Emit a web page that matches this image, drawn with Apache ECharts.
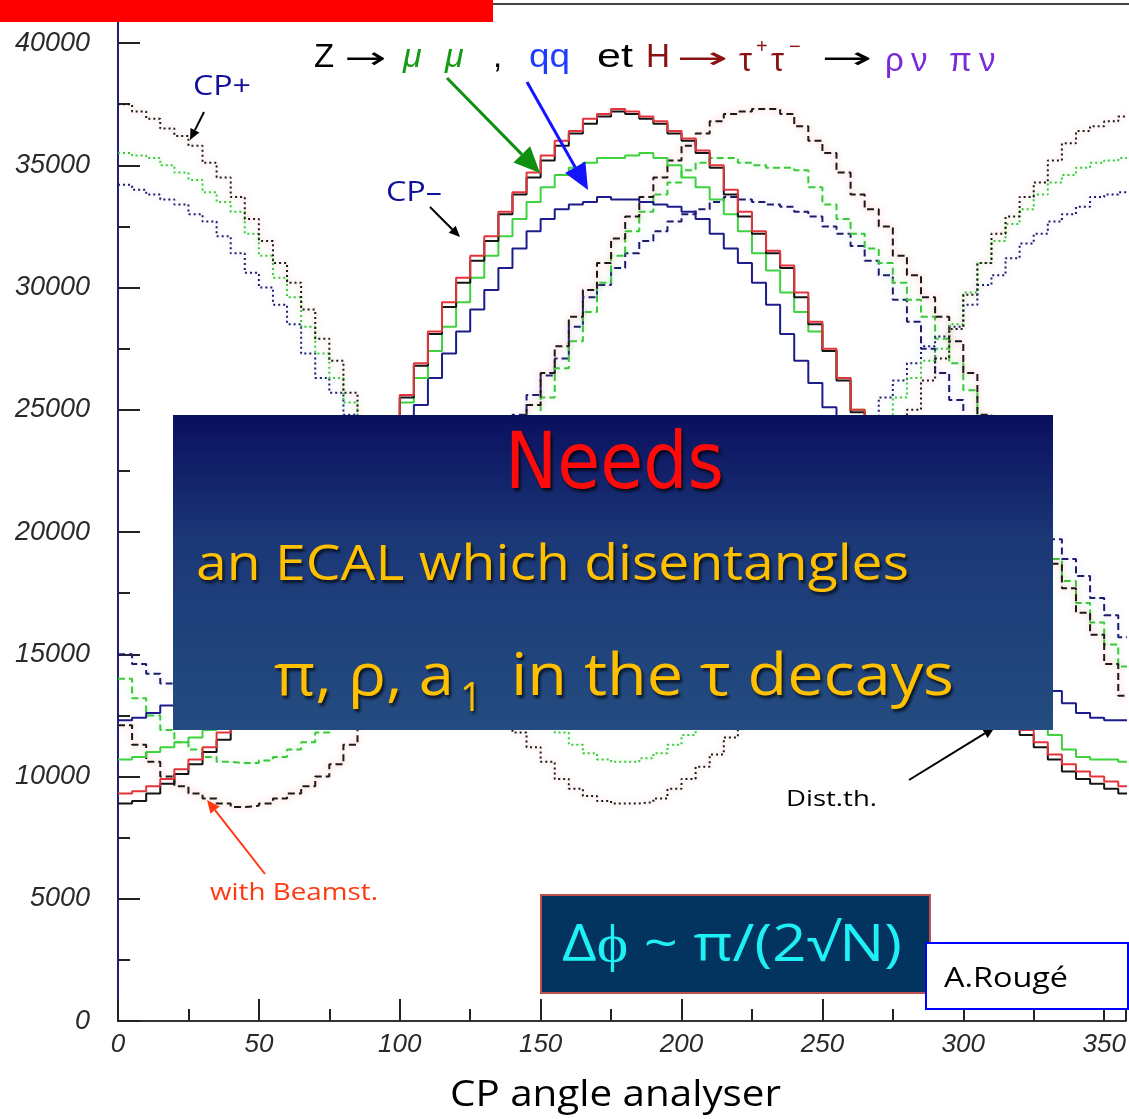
<!DOCTYPE html>
<html>
<head>
<meta charset="utf-8">
<script src="https://cdn.jsdelivr.net/npm/echarts@6/dist/echarts.min.js"></script>
<style>
  body { margin: 0; background: #fff; }
  #main { width: 1129px; height: 1119px; }
</style>
</head>
<body>
<div id="main"></div>
<script>
// bins of the CP angle (degrees), 5 deg wide
const angles = [
  0, 5, 10, 15, 20, 25, 30, 35, 40, 45,
  50, 55, 60, 65, 70, 75, 80, 85, 90, 95,
  100, 105, 110, 115, 120, 125, 130, 135, 140, 145,
  150, 155, 160, 165, 170, 175, 180, 185, 190, 195,
  200, 205, 210, 215, 220, 225, 230, 235, 240, 245,
  250, 255, 260, 265, 270, 275, 280, 285, 290, 295,
  300, 305, 310, 315, 320, 325, 330, 335, 340, 345,
  350, 355, 360
];

// solid histograms (peak at 180)
const blackSolid = [
  8900, 9000, 9300, 9700, 10100, 10500, 11000, 11500, 12100, 12800,
  13600, 14500, 15500, 16600, 17800, 19000, 20300, 21600, 22900, 24200,
  25500, 26800, 28100, 29200, 30200, 31100, 31900, 33000, 33800, 34500,
  35200, 35800, 36300, 36700, 37000, 37200, 37100, 36900, 36700, 36300,
  36000, 35500, 34900, 33800, 32900, 32200, 31400, 30800, 29600, 28500,
  27400, 26200, 24900, 23500, 22100, 20800, 19400, 18000, 16800, 15600,
  14600, 13700, 12900, 12200, 11700, 11200, 10700, 10200, 9900, 9700,
  9500, 9300, 9100
];
const redSolid = [
  9300, 9400, 9600, 9900, 10300, 10700, 11200, 11800, 12400, 13000,
  13800, 14700, 15700, 16800, 17900, 19100, 20400, 21700, 23000, 24300,
  25600, 26900, 28200, 29400, 30400, 31300, 32100, 33100, 33900, 34700,
  35400, 36000, 36400, 36900, 37100, 37300, 37200, 37000, 36800, 36400,
  36100, 35600, 35000, 34000, 33100, 32300, 31500, 30900, 29800, 28600,
  27500, 26300, 25000, 23600, 22300, 20900, 19600, 18200, 17000, 15800,
  14800, 13900, 13100, 12400, 11900, 11400, 10900, 10500, 10200, 10000,
  9800, 9600, 9400
];
const greenSolid = [
  10700, 10800, 11000, 11200, 11400, 11600, 11900, 12400, 13000, 13700,
  14500, 15400, 16400, 17400, 18500, 19600, 20800, 22000, 23200, 24300,
  25300, 26300, 27400, 28400, 29400, 30400, 31300, 32100, 32800, 33500,
  34100, 34600, 34900, 35100, 35300, 35300, 35400, 35500, 35300, 35000,
  34500, 34100, 33600, 33000, 32300, 31400, 30700, 29800, 29000, 28200,
  27400, 26300, 25000, 23800, 22600, 21300, 20100, 18900, 17700, 16600,
  15500, 14600, 13800, 13100, 12500, 12000, 11700, 11100, 10800, 10700,
  10700, 10600, 10700
];
const navySolid = [
  12300, 12400, 12600, 12900, 13100, 13400, 13800, 14300, 14800, 15400,
  16100, 16900, 17700, 18600, 19500, 20500, 21500, 22500, 23400, 24000,
  24600, 25200, 26300, 27300, 28200, 29100, 29900, 30800, 31600, 32300,
  32800, 33200, 33400, 33500, 33700, 33600, 33600, 33500, 33400, 33300,
  33100, 32800, 32200, 31600, 31000, 30200, 29300, 28100, 27000, 26100,
  25100, 24100, 23100, 22000, 20900, 19800, 18800, 17800, 16900, 16100,
  15400, 14800, 14300, 13900, 13600, 13500, 13500, 13000, 12600, 12400,
  12300, 12300, 12300
];

// CP+ (dotted, peak at 0 / 360)
const cpPlusBlack = [
  37500, 37200, 36900, 36500, 36200, 35800, 35100, 34500, 33700, 32800,
  31900, 31000, 30200, 29100, 27900, 27000, 25700, 24100, 22600, 21100,
  19700, 18300, 16900, 15700, 14600, 13700, 12900, 12300, 11800, 11200,
  10600, 9900, 9500, 9200, 9000, 8900, 8900, 8950, 9100, 9500,
  9900, 10400, 10900, 11600, 12500, 13400, 14400, 15600, 16800, 18000,
  19200, 20400, 21500, 22500, 23300, 24000, 25000, 26200, 27100, 28300,
  29700, 31000, 32200, 32900, 33700, 34300, 35200, 35900, 36400, 36600,
  36800, 37000, 37300
];
const cpPlusGreen = [
  35500, 35400, 35300, 35000, 34700, 34400, 33900, 33500, 33100, 32200,
  31300, 30400, 29600, 28400, 27300, 26300, 25300, 24200, 23100, 21900,
  20700, 19500, 18300, 17200, 16200, 15300, 14500, 13800, 13300, 12800,
  12300, 11800, 11300, 10950, 10700, 10600, 10600, 10750, 10950, 11300,
  11700, 12200, 12900, 13600, 14400, 15300, 16300, 17400, 18500, 19600,
  20700, 21800, 22800, 23800, 24700, 25500, 26300, 27000, 27500, 28500,
  29800, 31000, 31900, 32600, 33200, 33800, 34300, 34600, 34900, 35100,
  35200, 35300, 35500
];
const cpPlusNavy = [
  34200, 34000, 33800, 33600, 33400, 33000, 32700, 32100, 31400, 30600,
  30000, 29300, 28500, 27300, 26300, 25700, 24800, 24000, 23100, 22200,
  21200, 20200, 19200, 18200, 17200, 16300, 15500, 14800, 14200, 13700,
  13300, 13000, 12800, 12700, 12600, 12600, 12600, 12700, 12900, 13200,
  13600, 14100, 14700, 15400, 16200, 17100, 18000, 19000, 20000, 21000,
  22000, 23000, 23900, 24700, 25500, 26200, 26900, 27600, 28000, 28400,
  29300, 30100, 30500, 31200, 31800, 32200, 32700, 33000, 33300, 33700,
  33800, 33900, 34100
];

// CP- (dashed, peak near 225)
const cpMinusBlack = [
  12100, 11300, 10600, 10000, 9600, 9300, 9100, 8900, 8750, 8800,
  8900, 9100, 9300, 9600, 10000, 10500, 11300, 12200, 13200, 14200,
  15200, 16300, 17400, 18500, 19600, 20700, 21900, 23100, 24200, 25200,
  26500, 27600, 28800, 29900, 31000, 32000, 32900, 33700, 34500, 35200,
  35800, 36300, 36800, 37100, 37200, 37300, 37300, 37100, 36600, 36000,
  35500, 34700, 33800, 33200, 32500, 31300, 30500, 29600, 28800, 27800,
  26500, 24800, 23300, 21900, 20700, 19600, 18700, 17700, 16700, 15800,
  14600, 13300, 12200
];
const cpMinusGreen = [
  14000, 13200, 12500, 11900, 11400, 11100, 10800, 10600, 10550, 10550,
  10650, 10800, 11100, 11400, 11800, 12300, 12900, 13600, 14400, 15300,
  16200, 17200, 18200, 19200, 20200, 21200, 22200, 23100, 23900, 24700,
  25500, 26700, 27800, 29000, 30200, 31300, 32300, 33100, 33800, 34300,
  34800, 35100, 35300, 35300, 35100, 35000, 34900, 34900, 34800, 34100,
  33400, 32800, 32200, 31600, 31000, 30200, 29500, 28800, 27900, 26900,
  25800, 24600, 23400, 22200, 21000, 19900, 18900, 18000, 17100, 16300,
  15400, 14500, 14000
];
const cpMinusNavy = [
  15000, 14600, 14200, 13800, 13500, 13200, 13000, 12900, 12800, 12800,
  12900, 13100, 13300, 13600, 14000, 14500, 15000, 15600, 16300, 17000,
  17800, 18600, 19500, 20400, 21300, 22200, 23100, 24000, 24800, 25600,
  26400, 27100, 28400, 29600, 30100, 30800, 31400, 31900, 32300, 32700,
  33000, 33200, 33500, 33700, 33600, 33500, 33400, 33300, 33100, 32900,
  32500, 32200, 31700, 31100, 30500, 29500, 28600, 27500, 26500, 25400,
  24300, 23200, 22200, 21400, 20700, 20200, 19700, 18900, 18200, 17300,
  16600, 15700, 15000
];

const xTicks = [0, 50, 100, 150, 200, 250, 300, 350];
const yTicks = [0, 5000, 10000, 15000, 20000, 25000, 30000, 35000, 40000];

const chart = echarts.init(document.getElementById('main'));

// one histogram line, drawn as steps
function hist(name, values, color, dash, glow) {
  return {
    name: name,
    type: 'line',
    step: 'end',
    symbol: 'none',
    silent: true,
    data: angles.map((a, i) => [a, values[i]]),
    lineStyle: {
      color: color,
      width: 2,
      type: dash || 'solid',
      shadowColor: glow || 'transparent',
      shadowBlur: glow ? 6 : 0
    }
  };
}

// text width fitting, the installed fonts are not the slide fonts
const measure = document.createElement('canvas').getContext('2d');
function fitX(text, font, w) {
  measure.font = font;
  return w / measure.measureText(text).width;
}
function txt(x, y, text, font, color, width, more) {
  return {
    type: 'text', x: x, y: y, z: 110,
    scaleX: width ? fitX(text, font, width) : 1,
    style: Object.assign({
      text: text, font: font, fill: color,
      textAlign: 'left', textVerticalAlign: 'middle', align: 'left', verticalAlign: 'middle'
    }, more || {})
  };
}
function arrow(x1, y1, x2, y2, color, w, head, z) {
  const a = Math.atan2(y2 - y1, x2 - x1);
  const bx = x2 - head * Math.cos(a), by = y2 - head * Math.sin(a);
  const px = -Math.sin(a) * head * 0.45, py = Math.cos(a) * head * 0.45;
  return [
    { type: 'line', z: z || 105, shape: { x1: x1, y1: y1, x2: bx, y2: by }, style: { stroke: color, lineWidth: w } },
    { type: 'polygon', z: z || 105, shape: { points: [[x2, y2], [bx + px, by + py], [bx - px, by - py]] }, style: { fill: color } }
  ];
}

const sans = '"Liberation Sans"';
const slide = '"Open Sans"';
const dv = '"DejaVu Sans"';
const darkRed = '#8b1212';
const purple = '#7a2bd8';
const shadow = { textShadowColor: 'rgba(0,0,0,0.7)', textShadowOffsetX: 2, textShadowOffsetY: 3, textShadowBlur: 3 };

const graphics = [
  // red strip and top frame
  { type: 'rect', z: 120, shape: { x: 0, y: 0, width: 493, height: 22 }, style: { fill: '#ff0000' } },
  { type: 'line', z: 120, shape: { x1: 493, y1: 4, x2: 1129, y2: 4 }, style: { stroke: '#444', lineWidth: 2 } },

  // title line
  txt(314, 58, 'Z', '33px ' + sans, '#000'),
  txt(344, 60, '→', '30px ' + dv, '#000', 42),
  txt(403, 58, 'μ', 'italic 34px ' + sans, '#169a16'),
  txt(445, 58, 'μ', 'italic 34px ' + sans, '#169a16'),
  txt(493, 58, ',', '33px ' + sans, '#000'),
  txt(529, 58, 'qq', '33px ' + sans, '#1f3cff', 41),
  txt(597, 58, 'et', '33px ' + sans, '#000', 36),
  txt(646, 58, 'H', '33px ' + sans, darkRed, 24),
  txt(676, 60, '→', '30px ' + dv, darkRed, 52),
  txt(739, 62, 'τ', '33px ' + sans, darkRed),
  txt(756, 47, '+', '20px ' + sans, darkRed),
  txt(771, 62, 'τ', '33px ' + sans, darkRed),
  txt(789, 47, '−', '20px ' + sans, darkRed),
  txt(821, 60, '→', '30px ' + dv, '#000', 51),
  txt(885, 62, 'ρ', '33px ' + sans, purple),
  txt(911, 62, 'ν', '33px ' + sans, purple),
  txt(949, 62, 'π', '33px ' + sans, purple),
  txt(979, 62, 'ν', '33px ' + sans, purple),

  // CP labels
  txt(193, 87, 'CP+', '28px ' + slide, '#10109a', 58),
  txt(386, 193, 'CP–', '28px ' + slide, '#10109a', 56),
  ...arrow(204, 112, 190, 140, '#000', 2, 11),
  ...arrow(430, 207, 460, 237, '#000', 2, 11),
  ...arrow(447, 78, 540, 173, '#109010', 3, 26),
  ...arrow(527, 82, 588, 190, '#1414ff', 3, 26),

  // beamstrahlung / theory labels
  txt(210, 893, 'with Beamst.', '24px ' + slide, '#ff3a10', 168),
  ...arrow(265, 874, 207, 800, '#ff3a10', 2, 13),
  txt(786, 800, 'Dist.th.', '22px ' + slide, '#000', 91),
  ...arrow(909, 780, 995, 727, '#000', 2, 12, 95),

  // big message box
  {
    type: 'rect', z: 100,
    shape: { x: 173, y: 415, width: 880, height: 315 },
    style: {
      fill: new echarts.graphic.LinearGradient(0, 0, 0, 1, [
        { offset: 0, color: '#0a0f5e' },
        { offset: 0.4, color: '#1b3877' },
        { offset: 1, color: '#244c80' }
      ])
    }
  },
  txt(505, 468, 'Needs', '78px ' + dv, '#ff0a0a', 219, shadow),
  txt(196, 566, 'an ECAL which disentangles', '50px ' + slide, '#ffc000', 713, shadow),
  txt(274, 678, 'π, ρ, a', '58px ' + slide, '#ffc000', 180, shadow),
  txt(460, 700, '1', '40px ' + slide, '#ffc000', 22, shadow),
  txt(511, 678, 'in the τ decays', '58px ' + slide, '#ffc000', 443, shadow),

  // resolution box
  { type: 'rect', z: 100, shape: { x: 541, y: 895, width: 389, height: 98 }, style: { fill: '#03335f', stroke: '#c0504d', lineWidth: 2 } },
  txt(562, 946, 'Δϕ ~ π/(2√N)', '52px ' + slide, '#1ff0f5', 340),

  // author box
  { type: 'rect', z: 100, shape: { x: 926, y: 943, width: 202, height: 66 }, style: { fill: '#fff', stroke: '#0000ff', lineWidth: 2 } },
  txt(944, 979, 'A.Rougé', '28px ' + slide, '#000', 124),

  // axis title
  txt(450, 1096, 'CP angle analyser', '36px ' + slide, '#000', 331)
];

chart.setOption({
  animation: false,
  backgroundColor: '#fff',
  // plot runs past the right edge of the picture, axis ends at ~357.75
  grid: { left: 118, top: 0, right: 0, bottom: 98 },
  xAxis: {
    type: 'value',
    min: 0,
    max: 357.75,
    interval: 50,
    axisLine: { lineStyle: { color: '#333', width: 2 } },
    axisTick: { inside: true, length: 22, lineStyle: { color: '#222', width: 2 } },
    minorTick: { show: true, splitNumber: 2, length: 12, lineStyle: { color: '#222', width: 2 } },
    splitLine: { show: false },
    axisLabel: {
      margin: 11,
      color: '#2a2a2a',
      fontFamily: 'Liberation Sans',
      fontStyle: 'italic',
      fontSize: 26,
      formatter: v => (xTicks.indexOf(v) >= 0 ? String(v) : '')
    }
  },
  yAxis: {
    type: 'value',
    min: 0,
    max: 41760,
    interval: 5000,
    axisLine: { show: true, lineStyle: { color: '#20207a', width: 2 } },
    axisTick: { show: true, inside: true, length: 22, lineStyle: { color: '#222', width: 2 } },
    minorTick: { show: true, splitNumber: 2, length: 12, lineStyle: { color: '#222', width: 2 } },
    splitLine: { show: false },
    axisLabel: {
      margin: 28,
      color: '#2a2a2a',
      fontFamily: 'Liberation Sans',
      fontStyle: 'italic',
      fontSize: 27,
      formatter: v => (yTicks.indexOf(v) >= 0 ? String(v) : '')
    }
  },
  series: [
    hist('CP- navy', cpMinusNavy, '#1c1c6a', [7, 4], 'rgba(110,110,255,0.25)'),
    hist('CP- green', cpMinusGreen, '#3cc83c', [7, 4], 'rgba(120,230,120,0.45)'),
    hist('CP- black', cpMinusBlack, '#1a1a1a', [7, 4], 'rgba(255,70,70,0.45)'),
    hist('CP+ navy', cpPlusNavy, '#1c1c6a', [2, 3], 'rgba(110,110,255,0.25)'),
    hist('CP+ green', cpPlusGreen, '#3cc83c', [2, 3], 'rgba(120,230,120,0.45)'),
    hist('CP+ black', cpPlusBlack, '#1a1a1a', [2, 3], 'rgba(255,70,70,0.45)'),
    hist('navy', navySolid, '#1c1c8c'),
    hist('green', greenSolid, '#3fd23f'),
    hist('black', blackSolid, '#151515'),
    hist('red', redSolid, '#e3343c')
  ],
  graphic: graphics
});
</script>
</body>
</html>
